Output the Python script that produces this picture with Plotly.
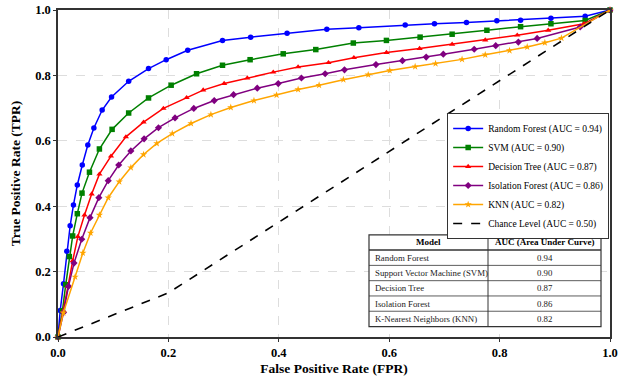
import plotly.graph_objects as go

rf_fpr = [0, 0.004, 0.010, 0.016, 0.022, 0.028, 0.035, 0.044, 0.054, 0.065, 0.080, 0.097, 0.128, 0.164, 0.196, 0.235, 0.298, 0.349, 0.415, 0.487, 0.545, 0.629, 0.682, 0.740, 0.795, 0.838, 0.893, 0.955, 1.0]
rf_tpr = [0, 0.081, 0.163, 0.262, 0.340, 0.404, 0.465, 0.526, 0.587, 0.639, 0.694, 0.734, 0.782, 0.821, 0.848, 0.877, 0.907, 0.917, 0.929, 0.941, 0.946, 0.954, 0.958, 0.962, 0.967, 0.969, 0.975, 0.981, 1.0]

svm_fpr = [0, 0.008, 0.014, 0.0205, 0.0266, 0.035, 0.0435, 0.057, 0.075, 0.098, 0.128, 0.164, 0.205, 0.251, 0.298, 0.348, 0.408, 0.467, 0.535, 0.595, 0.656, 0.714, 0.777, 0.838, 0.893, 0.955, 1.0]
svm_tpr = [0, 0.08, 0.16, 0.246, 0.309, 0.377, 0.440, 0.504, 0.575, 0.635, 0.685, 0.731, 0.770, 0.805, 0.831, 0.848, 0.866, 0.879, 0.899, 0.907, 0.917, 0.926, 0.938, 0.949, 0.958, 0.968, 1.0]

dt_fpr = [0, 0.010, 0.018, 0.0266, 0.036, 0.048, 0.061, 0.075, 0.096, 0.123, 0.155, 0.191, 0.233, 0.263, 0.301, 0.343, 0.390, 0.435, 0.490, 0.536, 0.595, 0.655, 0.714, 0.774, 0.832, 0.888, 0.953, 1.0]
dt_tpr = [0, 0.08, 0.155, 0.233, 0.307, 0.373, 0.437, 0.498, 0.553, 0.612, 0.657, 0.699, 0.732, 0.755, 0.775, 0.792, 0.810, 0.826, 0.839, 0.854, 0.870, 0.882, 0.895, 0.908, 0.923, 0.938, 0.958, 1.0]

if_fpr = [0, 0.010, 0.019, 0.029, 0.043, 0.058, 0.074, 0.091, 0.110, 0.132, 0.156, 0.182, 0.212, 0.246, 0.283, 0.318, 0.361, 0.399, 0.441, 0.484, 0.519, 0.576, 0.624, 0.667, 0.698, 0.754, 0.793, 0.834, 0.868, 0.946, 1.0]
if_tpr = [0, 0.075, 0.155, 0.226, 0.299, 0.365, 0.426, 0.478, 0.526, 0.569, 0.606, 0.640, 0.670, 0.699, 0.723, 0.741, 0.761, 0.775, 0.792, 0.805, 0.817, 0.833, 0.845, 0.856, 0.865, 0.880, 0.891, 0.902, 0.913, 0.948, 1.0]

knn_fpr = [0, 0.0097, 0.031, 0.045, 0.059, 0.075, 0.091, 0.111, 0.132, 0.155, 0.179, 0.207, 0.241, 0.277, 0.313, 0.355, 0.396, 0.435, 0.473, 0.517, 0.562, 0.601, 0.647, 0.684, 0.732, 0.774, 0.818, 0.850, 0.882, 0.912, 1.0]
knn_tpr = [0, 0.074, 0.184, 0.257, 0.318, 0.373, 0.426, 0.475, 0.518, 0.558, 0.592, 0.622, 0.653, 0.680, 0.702, 0.723, 0.740, 0.757, 0.770, 0.787, 0.802, 0.815, 0.827, 0.836, 0.849, 0.863, 0.876, 0.887, 0.900, 0.914, 1.0]

chance_fpr = [0, 0.2, 1.0]
chance_tpr = [0, 0.135, 1.0]

model_names = ["Random Forest", "Support Vector Machine (SVM)", "Decision Tree", "Isolation Forest", "K-Nearest Neighbors (KNN)"]
legend_names = ["Random Forest (AUC = 0.94)", "SVM (AUC = 0.90)", "Decision Tree (AUC = 0.87)", "Isolation Forest (AUC = 0.86)", "KNN (AUC = 0.82)"]
auc_values = ["0.94", "0.90", "0.87", "0.86", "0.82"]
table_header = ["Model", "AUC (Area Under Curve)"]
x_ticks = [0.0, 0.2, 0.4, 0.6, 0.8, 1.0]
tick_labels = ["0.0", "0.2", "0.4", "0.6", "0.8", "1.0"]

series = [
    (rf_fpr, rf_tpr, "#0000ff", "circle"),
    (svm_fpr, svm_tpr, "#008000", "square"),
    (dt_fpr, dt_tpr, "#ff0000", "triangle-up"),
    (if_fpr, if_tpr, "#800080", "diamond"),
    (knn_fpr, knn_tpr, "#ffa500", "star"),
]

FONT = "Liberation Serif, Times New Roman, serif"
fig = go.Figure()
for (fx, fy, col, sym), name in zip(series, legend_names):
    fig.add_trace(go.Scatter(
        x=fx, y=fy, mode="lines+markers", name=name,
        line=dict(color=col, width=1.5),
        marker=dict(color=col, symbol=sym, size=5.5),
        cliponaxis=False,
    ))
fig.add_trace(go.Scatter(
    x=chance_fpr, y=chance_tpr, mode="lines", name="Chance Level (AUC = 0.50)",
    line=dict(color="black", width=1.6, dash="dash"),
))

# ---- table drawn with shapes + annotations (paper coords) ----
tx0, tx1, tdiv = 0.5634, 0.9837, 0.779
ty_top, ty_bot = 0.3125, 0.032
nrows = len(model_names) + 1
rh = (ty_top - ty_bot) / nrows
shapes = [dict(type="rect", xref="paper", yref="paper", x0=tx0, x1=tx1, y0=ty_bot, y1=ty_top,
               fillcolor="white", line=dict(color="#333333", width=1.2), layer="above")]
shapes.append(dict(type="line", xref="paper", yref="paper", x0=tdiv, x1=tdiv, y0=ty_bot, y1=ty_top,
                   line=dict(color="#333333", width=1), layer="above"))
for i in range(1, nrows):
    yy = ty_top - i * rh
    shapes.append(dict(type="line", xref="paper", yref="paper", x0=tx0, x1=tx1, y0=yy, y1=yy,
                       line=dict(color="#333333", width=1.5 if i == 1 else 0.8), layer="above"))
annotations = []
annotations.append(dict(xref="paper", yref="paper", x=(tx0 + tdiv) / 2, y=ty_top - rh / 2,
                        text=f"<b>{table_header[0]}</b>", showarrow=False, xanchor="center", yanchor="middle",
                        font=dict(family=FONT, size=9, color="black")))
annotations.append(dict(xref="paper", yref="paper", x=(tdiv + tx1) / 2, y=ty_top - rh / 2,
                        text=f"<b>{table_header[1]}</b>", showarrow=False, xanchor="center", yanchor="middle",
                        font=dict(family=FONT, size=9, color="black")))
for i, (m, a) in enumerate(zip(model_names, auc_values)):
    yc = ty_top - (i + 1.5) * rh
    annotations.append(dict(xref="paper", yref="paper", x=tx0 + 0.007, y=yc, text=m, showarrow=False,
                            xanchor="left", yanchor="middle", font=dict(family=FONT, size=8.8, color="#222222")))
    annotations.append(dict(xref="paper", yref="paper", x=(tdiv + tx1) / 2, y=yc, text=a, showarrow=False,
                            xanchor="center", yanchor="middle", font=dict(family=FONT, size=8.8, color="#222222")))

fig.update_layout(
    width=627, height=380,
    margin=dict(l=58, r=17, t=10, b=42.5),
    plot_bgcolor="white", paper_bgcolor="white",
    font=dict(family=FONT, color="black"),
    legend=dict(
        x=0.705, y=0.685, xanchor="left", yanchor="top",
        bgcolor="white", bordercolor="#333333", borderwidth=1,
        font=dict(family=FONT, size=9.5, color="black"),
        itemwidth=30, tracegroupgap=0,
    ),
    showlegend=True,
    shapes=shapes,
    annotations=annotations,
)
axis_common = dict(
    range=[0, 1], tickvals=x_ticks, ticktext=[f"<b>{t}</b>" for t in tick_labels],
    tickfont=dict(family=FONT, size=12.5, color="black"),
    showline=True, linecolor="#333333", linewidth=1.5, mirror=True,
    ticks="outside", ticklen=3, tickcolor="#333333",
    showgrid=True, gridcolor="#dddddd", griddash="dash", gridwidth=1,
    zeroline=False, automargin=False,
)
fig.update_xaxes(**axis_common, title=dict(text="<b>False Positive Rate (FPR)</b>", font=dict(family=FONT, size=13.5), standoff=5))
fig.update_yaxes(**axis_common, title=dict(text="<b>True Positive Rate (TPR)</b>", font=dict(family=FONT, size=13.5), standoff=11))

fig.write_html("out.html", config={"displayModeBar": False},
               post_script="document.body.style.margin='0';document.body.style.overflow='hidden';")
